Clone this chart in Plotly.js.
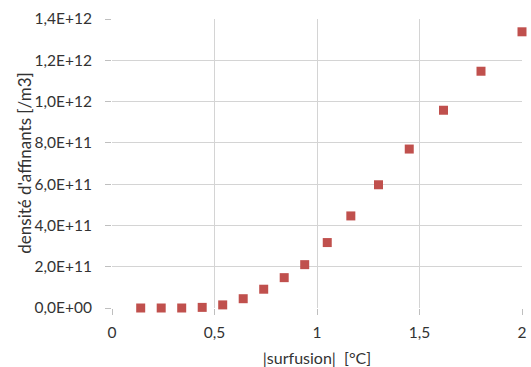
<!DOCTYPE html>
<html>
<head>
<meta charset="utf-8">
<script src="https://cdn.plot.ly/plotly-3.0.1.min.js"></script>
<style>html,body{margin:0;padding:0;background:#fff;}#chart{width:531px;height:367px;}</style>
</head>
<body>
<div id="chart"></div>
<script>
// Data
const surfusion = [0.14, 0.24, 0.34, 0.44, 0.54, 0.64, 0.74, 0.84, 0.94, 1.05, 1.165, 1.30, 1.45, 1.617, 1.80, 2.0];
const densite = [0, 0, 0, 3e9, 1.5e10, 4.5e10, 9.1e10, 1.47e11, 2.1e11, 3.17e11, 4.46e11, 5.97e11, 7.7e11, 9.58e11, 1.147e12, 1.338e12];

const xTickVals = [0, 0.5, 1, 1.5, 2];
const xTickText = ["0", "0,5", "1", "1,5", "2"];
const yTickVals = [0, 2e11, 4e11, 6e11, 8e11, 1e12, 1.2e12, 1.4e12];
const yTickText = ["0,0E+00", "2,0E+11", "4,0E+11", "6,0E+11", "8,0E+11", "1,0E+12", "1,2E+12", "1,4E+12"];
const xTitle = "|surfusion|  [°C]";
const yTitle = "densité d'affinants [/m3]";

const fontFam = "Lato, 'Open Sans', sans-serif";
const txtColor = "#333333";

const trace = {
  x: surfusion,
  y: densite,
  mode: "markers",
  type: "scatter",
  marker: {symbol: "square", size: 9, color: "#C0504D", line: {width: 0}},
  cliponaxis: false,
  hoverinfo: "x+y"
};

const layout = {
  width: 531,
  height: 367,
  margin: {l: 112, r: 9, t: 19, b: 59},
  paper_bgcolor: "#ffffff",
  plot_bgcolor: "#ffffff",
  showlegend: false,
  font: {family: fontFam, size: 15.5, color: txtColor},
  xaxis: {
    range: [0, 2],
    tickvals: xTickVals,
    ticktext: xTickText,
    showgrid: true,
    gridcolor: "#d4d4d4",
    gridwidth: 1,
    zeroline: false,
    showline: false,
    ticks: "outside",
    ticklen: 6,
    tickcolor: "#bfbfbf",
    ticklabelstandoff: 4,
    tickfont: {family: fontFam, size: 15.5, color: txtColor},
    title: {text: xTitle, font: {family: fontFam, size: 16, color: txtColor}, standoff: 13}
  },
  yaxis: {
    range: [0, 1.4e12],
    tickvals: yTickVals,
    ticktext: yTickText,
    showgrid: true,
    gridcolor: "#d4d4d4",
    gridwidth: 1,
    zeroline: false,
    showline: false,
    ticks: "outside",
    ticklen: 6,
    tickcolor: "#bfbfbf",
    ticklabelstandoff: 10,
    tickfont: {family: fontFam, size: 15.5, color: txtColor}
  },
  annotations: [{
    text: yTitle,
    xref: "paper", yref: "paper",
    x: -0.212, y: 0.503,
    xanchor: "center", yanchor: "middle",
    textangle: -90,
    showarrow: false,
    font: {family: fontFam, size: 17, color: txtColor}
  }]
};

Plotly.newPlot("chart", [trace], layout, {displayModeBar: false, staticPlot: true});
</script>
</body>
</html>
